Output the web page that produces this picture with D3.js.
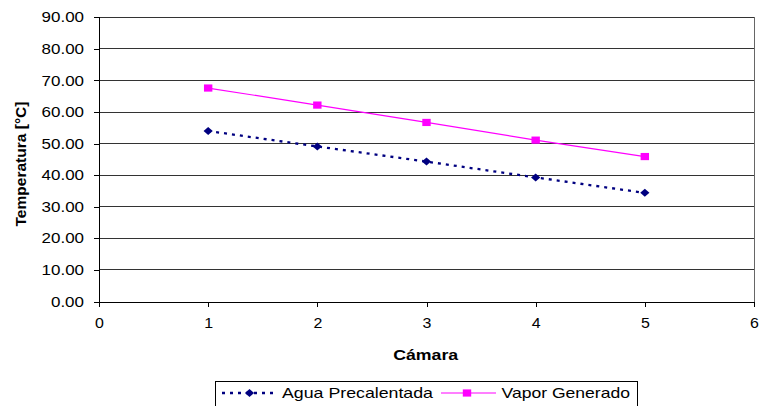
<!DOCTYPE html>
<html><head><meta charset="utf-8">
<script src="https://cdn.jsdelivr.net/npm/d3@7"></script>
<style>body{margin:0;background:#fff}svg{display:block;font-family:"Liberation Sans",Arial,sans-serif}</style>
</head><body>
<svg id="c" width="761" height="406"></svg>
<script>
const camara = [1, 2, 3, 4, 5];
const aguaPrecalentada = [54.0, 49.1, 44.3, 39.3, 34.4];
const vaporGenerado = [67.6, 62.2, 56.7, 51.1, 45.9];
const yTicks = [0, 10, 20, 30, 40, 50, 60, 70, 80, 90];
const xTicks = [0, 1, 2, 3, 4, 5, 6];

const svg = d3.select("#c");
const L = 99, R = 754, T = 17.3, B = 301.5;
const x = d3.scaleLinear().domain([0, 6]).range([L, R]);
const y = d3.scaleLinear().domain([0, 90]).range([B, T]);

function stretch(sel, k) {
  sel.each(function () {
    const l = this.getComputedTextLength();
    d3.select(this).attr("textLength", l * k).attr("lengthAdjust", "spacingAndGlyphs");
  });
}
function fitTo(sel, len) {
  sel.attr("textLength", len).attr("lengthAdjust", "spacingAndGlyphs");
}

// gridlines
svg.append("g").selectAll("line").data(yTicks.filter(d => d > 0)).join("line")
  .attr("x1", L).attr("x2", R).attr("y1", d => y(d)).attr("y2", d => y(d))
  .attr("stroke", "#333").attr("stroke-width", 1).attr("shape-rendering", "crispEdges");
// right border
svg.append("line").attr("x1", R).attr("x2", R).attr("y1", T).attr("y2", B)
  .attr("stroke", "#666").attr("shape-rendering", "crispEdges");

// axes
const yAxis = svg.append("g").attr("transform", `translate(${L},0)`)
  .call(d3.axisLeft(y).tickValues(yTicks).tickFormat(d3.format(".2f")).tickSize(5).tickPadding(10));
const xAxis = svg.append("g").attr("transform", `translate(0,${B})`)
  .call(d3.axisBottom(x).tickValues(xTicks).tickFormat(d3.format("d")).tickSize(5).tickPadding(11));
[yAxis, xAxis].forEach(a => {
  a.select(".domain").attr("stroke", "#000").attr("shape-rendering", "crispEdges");
  a.selectAll(".tick line").attr("stroke", "#000").attr("shape-rendering", "crispEdges");
  a.selectAll("text").attr("font-size", 14.5).attr("fill", "#000")
    .attr("font-family", "'Liberation Sans', Arial, sans-serif");
});
yAxis.selectAll(".domain").attr("d", `M0,${B}V${T}`);
stretch(yAxis.selectAll("text"), 1.17);
stretch(xAxis.selectAll("text"), 1.1);

// axis titles
const yt = svg.append("text").attr("transform", `translate(25.5,164) rotate(-90)`)
  .attr("text-anchor", "middle").attr("font-size", 14).attr("font-weight", "bold").text("Temperatura [°C]");
fitTo(yt, 125);
const xt = svg.append("text").attr("x", 425.7).attr("y", 360)
  .attr("text-anchor", "middle").attr("font-size", 14.5).attr("font-weight", "bold").text("Cámara");
fitTo(xt, 65);

// series
const line = d3.line().x(d => x(d[0])).y(d => y(d[1]));
const aguaData = camara.map((c, i) => [c, aguaPrecalentada[i]]);
const vaporData = camara.map((c, i) => [c, vaporGenerado[i]]);

svg.append("path").datum(vaporData).attr("d", line).attr("fill", "none")
  .attr("stroke", "#FF00FF").attr("stroke-width", 1.2);
svg.append("path").datum(aguaData).attr("d", line).attr("fill", "none")
  .attr("stroke", "#000080").attr("stroke-width", 2.3).attr("stroke-dasharray", "3,5");

const diamondPath = "M0,-4L4.6,0L0,4L-4.6,0Z";
const squarePath = "M-4.2,-3.6H4.2V3.6H-4.2Z";
svg.append("g").selectAll("path").data(aguaData).join("path")
  .attr("transform", d => `translate(${x(d[0])},${y(d[1])})`)
  .attr("d", diamondPath).attr("fill", "#000080");
svg.append("g").selectAll("path").data(vaporData).join("path")
  .attr("transform", d => `translate(${x(d[0])},${y(d[1])})`)
  .attr("d", squarePath).attr("fill", "#FF00FF");

// legend
const lg = svg.append("g");
lg.append("rect").attr("x", 215.5).attr("y", 381.5).attr("width", 422).attr("height", 30)
  .attr("fill", "#fff").attr("stroke", "#000").attr("stroke-width", 1);
const ly = 393;
lg.append("line").attr("x1", 222).attr("x2", 277).attr("y1", ly).attr("y2", ly)
  .attr("stroke", "#000080").attr("stroke-width", 2.3).attr("stroke-dasharray", "3,5");
lg.append("path").attr("transform", `translate(249.5,${ly})`).attr("d", diamondPath).attr("fill", "#000080");
const t1 = lg.append("text").attr("x", 282).attr("y", 398.3).attr("font-size", 15).text("Agua Precalentada");
fitTo(t1, 151);
lg.append("line").attr("x1", 441).attr("x2", 496).attr("y1", ly).attr("y2", ly)
  .attr("stroke", "#FF00FF").attr("stroke-width", 1.2);
lg.append("path").attr("transform", `translate(467,${ly})`).attr("d", squarePath).attr("fill", "#FF00FF");
const t2 = lg.append("text").attr("x", 501.5).attr("y", 398.3).attr("font-size", 15).text("Vapor Generado");
fitTo(t2, 128.5);
</script>
</body></html>
